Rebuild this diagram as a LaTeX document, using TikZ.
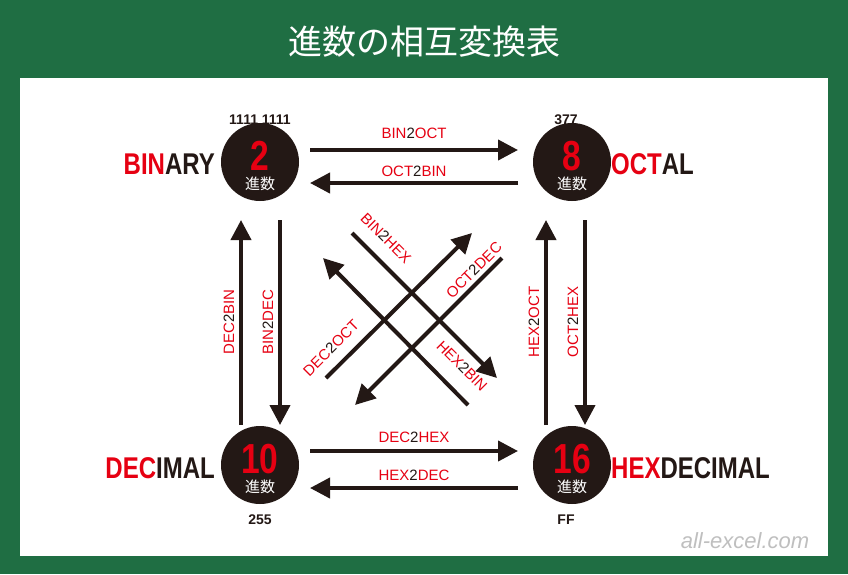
\documentclass[tikz,border=0pt]{standalone}
\usepackage{fontspec}
\setmainfont{Liberation Sans}
\newfontfamily\cjk{Noto Sans CJK JP}
\usetikzlibrary{arrows.meta}
\definecolor{bg}{HTML}{1F6E43}
\definecolor{dk}{HTML}{231815}
\definecolor{rd}{HTML}{E60012}
\begin{document}
\begin{tikzpicture}[x=1pt,y=-1pt,
  arr/.style={draw=dk,line width=4pt,-{Triangle[length=20pt,width=20pt]}},
  circ/.style={circle,fill=dk,minimum size=78pt,inner sep=0pt},
  lab/.style={text=rd,font=\fontsize{15}{15}\selectfont,inner sep=1pt},
  big/.style={font=\bfseries\fontsize{30}{30}\selectfont,inner sep=0pt},
  num/.style={font=\bfseries\fontsize{14}{14}\selectfont,text=dk}]
\fill[bg] (0,0) rectangle (848,574);
\fill[white] (20,78) rectangle (828,556);
\node[text=white,font=\cjk\fontsize{34}{34}\selectfont] (title) at (424,42) {進数の相互変換表};
\newcommand{\tw}[1]{\textcolor{dk}{#1}}
\node[circ] (bin) at (260,162) {};
\node[circ] (oct) at (572,162) {};
\node[circ] (dec) at (260,465) {};
\node[circ] (hex) at (572,465) {};
\foreach \n/\t in {bin/2,oct/8,dec/10,hex/16}{
  \node[text=rd,font=\bfseries\fontsize{42}{42}\selectfont,inner sep=0pt] at ([yshift=6pt]\n) {\scalebox{0.8}[1]{\t}};
  \node[text=white,font=\cjk\fontsize{15}{15}\selectfont,inner sep=0pt] at ([yshift=-22pt]\n) {進数};
}
\node[big,anchor=east] (nbin) at (215,164) {\scalebox{0.8}[1]{\textcolor{rd}{BIN}\tw{ARY}}};
\node[big,anchor=west] (noct) at (611,164) {\scalebox{0.8}[1]{\textcolor{rd}{OCT}\tw{AL}}};
\node[big,anchor=east] (ndec) at (215,468) {\scalebox{0.8}[1]{\textcolor{rd}{DEC}\tw{IMAL}}};
\node[big,anchor=west] (nhex) at (611,468) {\scalebox{0.8}[1]{\textcolor{rd}{HEX}\tw{DECIMAL}}};
\node[num] (v1) at (260,120) {1111 1111};
\node[num] (v2) at (566,120) {377};
\node[num] (v3) at (260,520) {255};
\node[num] (v4) at (566,520) {FF};
% horizontal
\coordinate (a1) at (310,150); \coordinate (a2) at (518,150);
\coordinate (b1) at (518,183); \coordinate (b2) at (310,183);
\coordinate (c1) at (310,451); \coordinate (c2) at (518,451);
\coordinate (d1) at (518,488); \coordinate (d2) at (310,488);
\draw[arr] (a1) -- (a2); \draw[arr] (b1) -- (b2);
\draw[arr] (c1) -- (c2); \draw[arr] (d1) -- (d2);
\node[lab] at (414,133) {BIN\tw{2}OCT};
\node[lab] at (414,171) {OCT\tw{2}BIN};
\node[lab] at (414,437) {DEC\tw{2}HEX};
\node[lab] at (414,475) {HEX\tw{2}DEC};
% vertical
\coordinate (e1) at (241,425); \coordinate (e2) at (241,220);
\coordinate (f1) at (280,220); \coordinate (f2) at (280,425);
\coordinate (g1) at (546,425); \coordinate (g2) at (546,220);
\coordinate (h1) at (585,220); \coordinate (h2) at (585,425);
\draw[arr] (e1) -- (e2); \draw[arr] (f1) -- (f2);
\draw[arr] (g1) -- (g2); \draw[arr] (h1) -- (h2);
\node[lab,rotate=90] at (229,322) {DEC\tw{2}BIN};
\node[lab,rotate=90] at (268,322) {BIN\tw{2}DEC};
\node[lab,rotate=90] at (534,322) {HEX\tw{2}OCT};
\node[lab,rotate=90] at (573,322) {OCT\tw{2}HEX};
% diagonals
\coordinate (i1) at (352,233); \coordinate (i2) at (497,378);
\coordinate (j1) at (468,405); \coordinate (j2) at (323,258);
\coordinate (k1) at (326,378); \coordinate (k2) at (472,233);
\coordinate (l1) at (502,258); \coordinate (l2) at (355,405);
\draw[arr] (i1) -- (i2); \draw[arr] (j1) -- (j2);
\draw[arr] (k1) -- (k2); \draw[arr] (l1) -- (l2);
\node[lab,rotate=-45] at (386,238) {BIN\tw{2}HEX};
\node[lab,rotate=45] at (474,270) {OCT\tw{2}DEC};
\node[lab,rotate=45] at (331,348) {DEC\tw{2}OCT};
\node[lab,rotate=-45] at (462,366) {HEX\tw{2}BIN};
\node[text=black!25,font=\itshape\fontsize{22}{22}\selectfont] (wm) at (745,541) {all-excel.com};
\end{tikzpicture}
\end{document}
